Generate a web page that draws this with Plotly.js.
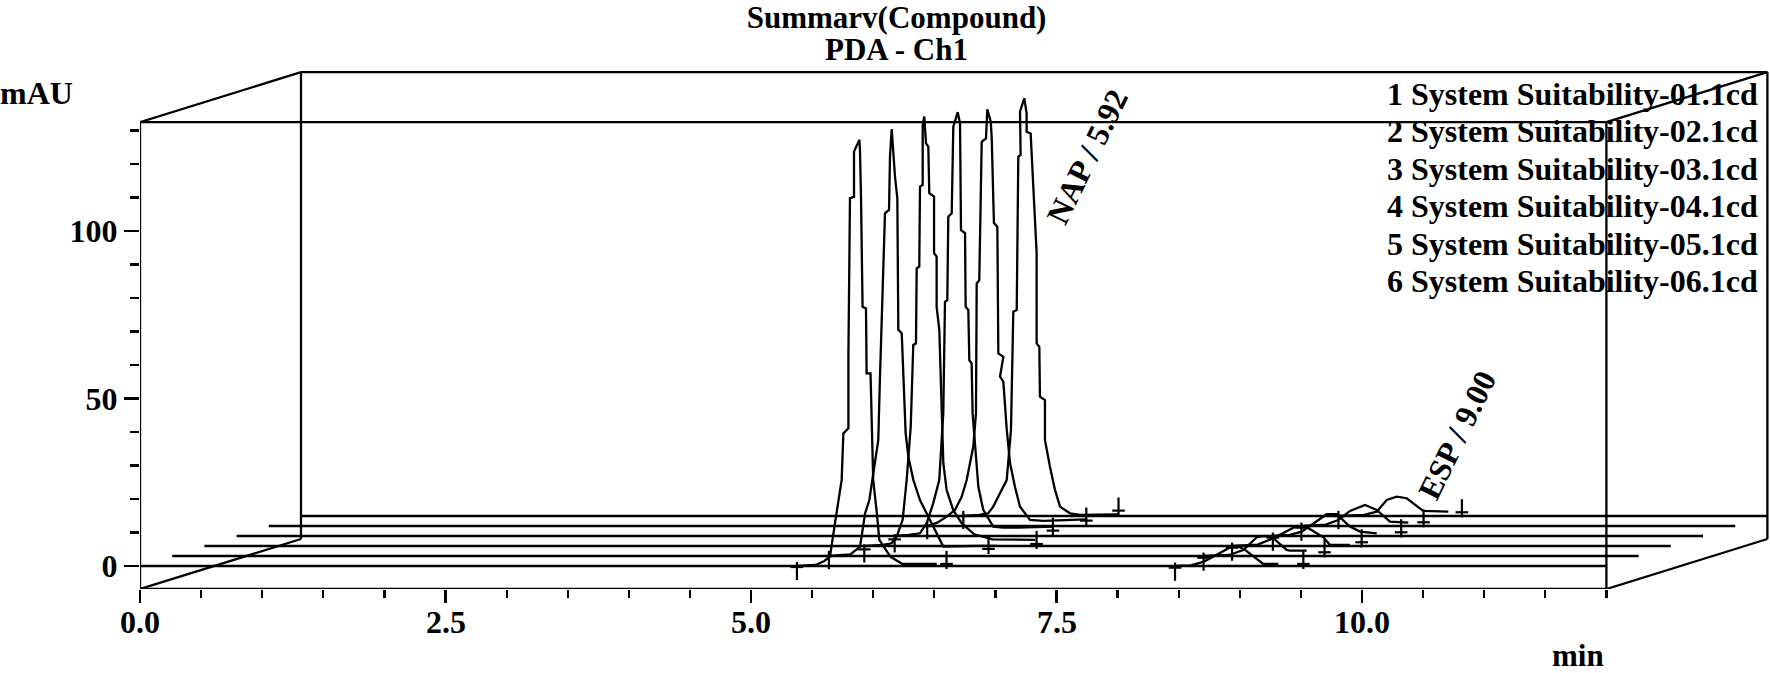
<!DOCTYPE html>
<html><head><meta charset="utf-8">
<script src="https://cdn.plot.ly/plotly-3.0.1.min.js"></script>
<style>html,body{margin:0;padding:0;background:#fff;}#chart{width:1770px;height:673px;}</style>
</head><body><div id="chart"></div>
<script>
// ---- data (time in min, signal in mAU) ----
const seriesNames = [
  "1 System Suitability-01.1cd","2 System Suitability-02.1cd","3 System Suitability-03.1cd",
  "4 System Suitability-04.1cd","5 System Suitability-05.1cd","6 System Suitability-06.1cd"];
const peakLabels = ["NAP / 5.92", "ESP / 9.00"];
const xTickVals = [0, 2.5, 5, 7.5, 10];
const xTickText = ["0.0", "2.5", "5.0", "7.5", "10.0"];
const yTickVals = [0, 50, 100];
const yTickText = ["0", "50", "100"];
const timeRange = [0, 12];

const napTime = [
  [5.38,5.53,5.60,5.646,5.687,5.742,5.756,5.797,5.797,5.81,5.843,5.843,5.887,5.892,5.90,5.913,5.941,5.946,5.978,5.987,6.00,6.03,6.05,6.14,6.24,6.52],
  [5.38,5.55,5.629,5.670,5.705,5.737,5.778,5.792,5.833,5.866,5.874,5.888,5.915,5.934,5.942,5.970,5.989,6.002,6.024,6.065,6.119,6.201,6.31,6.57,6.75],
  [5.40,5.55,5.624,5.665,5.714,5.747,5.780,5.801,5.823,5.829,5.850,5.856,5.878,5.878,5.891,5.905,5.924,5.932,5.971,5.971,5.992,5.992,6.014,6.020,6.033,6.047,6.074,6.128,6.197,6.30,6.45,6.80],
  [5.385,5.50,5.592,5.647,5.701,5.750,5.783,5.797,5.816,5.824,5.852,5.860,5.865,5.901,5.920,5.928,5.961,5.966,5.988,5.996,6.015,6.023,6.043,6.070,6.110,6.192,6.274,6.40,6.68],
  [5.388,5.47,5.548,5.615,5.670,5.711,5.765,5.787,5.793,5.814,5.834,5.869,5.880,5.908,5.916,5.934,5.962,5.970,6.011,5.984,6.011,6.039,6.066,6.106,6.147,6.229,6.338,6.69],
  [5.42,5.55,5.624,5.665,5.720,5.775,5.810,5.829,5.857,5.870,5.889,5.884,5.919,5.938,5.938,5.971,6.020,6.020,6.042,6.047,6.088,6.088,6.129,6.170,6.211,6.293,6.375,6.69]
];
const napSignal = [
  [0,0.3,1.5,2.8,12.7,25.7,39.6,41.1,62.5,109.8,110.2,123.7,127.2,123.7,110.7,77.4,76.9,57.5,57.5,44.6,25.7,15.7,7.8,2.8,0.6,0.6],
  [0,0.5,2.8,12.7,16.7,24.7,34.6,53.5,102.3,103.3,119.2,127.4,113.2,106.8,67.5,66.5,48.6,36.7,29.7,22.7,16.7,10.7,2.8,3.0,3.0],
  [0,0.3,0.8,2.8,7.8,19.7,35.6,60.0,60.5,82.9,83.4,107.3,107.8,125.7,128.2,120.2,119.2,105.3,104.3,87.4,86.4,71.4,64.5,57.5,36.6,24.7,16.7,10.7,6.8,3.5,2.0,1.8],
  [0,0.3,0.8,3.8,9.8,16.7,36.6,69.9,70.4,95.3,96.3,115.7,122.2,126.5,123.2,91.3,90.4,68.4,67.5,52.5,51.5,36.6,26.7,14.7,7.8,2.8,2.5,2.5,2.8],
  [0,1.0,2.8,4.8,8.7,13.7,23.7,33.6,72.4,73.4,114.7,115.7,124.4,120.7,115.7,90.4,89.3,51.5,50.5,44.6,43.1,28.7,18.7,11.7,5.8,1.8,1.5,2.0],
  [0,0.3,0.8,2.8,6.8,10.7,25.7,61.0,61.5,107.3,107.8,120.7,124.7,120.2,114.7,114.2,78.4,51.5,50.5,35.6,34.6,22.7,14.7,7.8,2.8,0.8,0.3,0.5]
];
const espTime = [
  [8.47,8.60,8.707,8.934,8.99,9.043,9.193,9.315],
  [8.44,8.65,8.765,8.875,8.943,9.011,9.12,9.147,9.284],
  [8.41,8.62,8.747,8.939,9.021,9.157,9.211,9.375],
  [8.48,8.62,8.716,8.921,9.002,9.111,9.193,9.33],
  [8.45,8.65,8.752,8.848,8.971,9.066,9.175,9.325],
  [8.49,8.70,8.803,8.885,8.966,9.048,9.184,9.389]
];
const espSignal = [
  [0,0.2,1.3,5.8,5.8,4.8,0.6,0.6],
  [0,0.3,1.8,5.6,6.0,5.3,1.8,1.6,1.6],
  [0,0.4,2.3,6.0,5.6,2.6,0.3,0.3],
  [0,0.3,1.3,6.5,6.5,2.8,1.3,0.8],
  [0,0.4,1.8,4.5,6.3,4.8,1.3,1.0],
  [0,0.3,1.3,4.8,5.8,5.3,1.5,1.3]
];
// peak start / end marks: [NAP start, NAP end, ESP start, ESP end]
const markTime = [
  [5.376,6.60,8.47,9.52],
  [5.374,6.68,8.44,9.43],
  [5.40,6.81,8.41,9.47],
  [5.385,6.68,8.48,9.53],
  [5.388,6.69,8.45,9.45],
  [5.42,6.69,8.49,9.50]
];
const markSignal = [
  [-1.5,1.8,-1.7,1.8],
  [-1.2,3.3,-1.7,2.3],
  [-2.2,1.8,-1.7,2.3],
  [-2.2,2.8,-1.7,2.3],
  [-1.2,2.8,-1.7,2.3],
  [-1.2,2.8,-1.2,2.3]
];
const markIsStart = [true, false, true, false];

// ---- pseudo-3D projection settings ----
const DX = 0.2635;   // depth shift per run, in min
const DY = 2.985;    // depth shift per run, in mAU
const yFloor = -6.87;
const yFrontTop = 132.5;
const FONT = "Liberation Serif, Times New Roman, serif";
const LW = 2.3;
const pxPerMin = 122.2, pxPerMAU = 3.35;
const BAR_OFF = 4 / pxPerMAU;  // crossbar offset of the peak marks

const traces = [];
seriesNames.forEach((name, k) => {
  const sx = t => t + k * DX, sy = v => v + k * DY;
  traces.push({type:"scatter", mode:"lines", name: name + " baseline", showlegend:false, hoverinfo:"skip",
    x: timeRange.map(sx), y: [0, 0].map(sy), line:{color:"#000", width:LW}});
  traces.push({type:"scatter", mode:"lines", name: name + " NAP", showlegend:false,
    x: napTime[k].map(sx), y: napSignal[k].map(sy), line:{color:"#000", width:LW}});
  traces.push({type:"scatter", mode:"lines", name: name + " ESP", showlegend:false,
    x: espTime[k].map(sx), y: espSignal[k].map(sy), line:{color:"#000", width:LW}});
  traces.push({type:"scatter", mode:"markers", name: name + " marks", showlegend:false,
    x: markTime[k].map(sx), y: markSignal[k].map(sy),
    marker:{symbol:"line-ns", size:13, line:{color:"#000", width:2.2}, color:"#000"}});
  traces.push({type:"scatter", mode:"markers", name: name + " marks bar", showlegend:false, hoverinfo:"skip",
    x: markTime[k].map(sx),
    y: markSignal[k].map((v, j) => sy(v + (markIsStart[j] ? BAR_OFF : -BAR_OFF))),
    marker:{symbol:"line-ew", size:9, line:{color:"#000", width:2.2}, color:"#000"}});
});

const D = 5 * DX, H = 5 * DY, xEnd = timeRange[1];
const seg = (x0,y0,x1,y1) => ({type:"line", xref:"x", yref:"y", x0, y0, x1, y1, line:{color:"#000", width:LW}});
const shapes = [
  seg(0, yFloor, 0, yFrontTop), seg(0, yFrontTop, xEnd, yFrontTop), seg(xEnd, yFloor, xEnd, yFrontTop),
  seg(0, yFloor, xEnd, yFloor),
  seg(D, yFrontTop + H, xEnd + D, yFrontTop + H), seg(D, yFloor + H, D, yFrontTop + H),
  seg(xEnd + D, yFloor + H, xEnd + D, yFrontTop + H),
  seg(0, yFrontTop, D, yFrontTop + H), seg(xEnd, yFrontTop, xEnd + D, yFrontTop + H),
  seg(xEnd, yFloor, xEnd + D, yFloor + H), seg(0, yFloor, D, yFloor + H)
];

const xMinor = [], yMinor = [];
for (let i = 1; i <= 24; i++) { const v = i * 0.5; if (!xTickVals.includes(v)) xMinor.push(v); }
for (let i = 1; i <= 13; i++) { const v = i * 10; if (!yTickVals.includes(v)) yMinor.push(v); }

const f = (s) => ({family: FONT, size: s, color: "#000", weight: "bold"});
const W = 1770, Hh = 673, ml = 140, mr = 0, mt = 68, mb = 84;
const plotW = W - ml - mr, plotH = Hh - mt - mb;
const py = (fy) => 1 - (fy - mt) / plotH;   // figure px -> paper y
const px = (fx) => (fx - ml) / plotW;       // figure px -> paper x

const annotations = [];
seriesNames.forEach((name, i) => {
  annotations.push({xref:"paper", yref:"paper", x: px(1760), y: py(93.5 + 37.5 * i), xanchor:"right", yanchor:"middle",
    text: name, showarrow:false, font: f(32)});
});
xTickVals.forEach((v, i) => {
  annotations.push({xref:"x", yref:"paper", x: v, y: py(622), xanchor:"center", yanchor:"middle",
    text: xTickText[i], showarrow:false, font: f(32)});
});
annotations.push({xref:"paper", yref:"paper", x: px(896.6), y: py(50), xanchor:"center", yanchor:"middle",
  text:"PDA - Ch1", showarrow:false, font:f(31)});
annotations.push({xref:"paper", yref:"paper", x: px(36.5), y: py(93), xanchor:"center", yanchor:"middle",
  text:"mAU", showarrow:false, font:f(32)});
annotations.push({xref:"x", yref:"paper", x: xEnd, y: py(655), xanchor:"right", yanchor:"middle",
  text:"min", showarrow:false, font:f(31)});
annotations.push({xref:"x", yref:"y", x: (1087 - ml) / pxPerMin, y: (566 - 157) / pxPerMAU, xanchor:"center", yanchor:"middle",
  text: peakLabels[0], textangle:-64, showarrow:false, font:f(32)});
annotations.push({xref:"x", yref:"y", x: (1457 - ml) / pxPerMin, y: (566 - 435) / pxPerMAU, xanchor:"center", yanchor:"middle",
  text: peakLabels[1], textangle:-64, showarrow:false, font:f(32)});

const layout = {
  width: W, height: Hh, margin:{l:ml, r:mr, t:mt, b:mb, pad:0},
  paper_bgcolor:"#fff", plot_bgcolor:"#fff", showlegend:false,
  title:{text:"Summarv(Compound)", x: 896.6 / W, xanchor:"center", xref:"container",
         y: 1 - 17.5 / Hh, yanchor:"middle", yref:"container", font:f(31)},
  xaxis:{range:[0, plotW / pxPerMin], showgrid:false, zeroline:false, showline:false,
    tickmode:"array", tickvals:xTickVals, ticktext:xTickText, showticklabels:false,
    ticks:"outside", ticklen:13, tickwidth:2.2, tickcolor:"#000",
    minor:{tickmode:"array", tickvals:xMinor, ticks:"outside", ticklen:8, tickwidth:2.2, tickcolor:"#000", showgrid:false}},
  yaxis:{range:[yFloor, yFloor + plotH / pxPerMAU], showgrid:false, zeroline:false, showline:false,
    tickmode:"array", tickvals:yTickVals, ticktext:yTickText, ticks:"outside", ticklen:15, tickwidth:2.2, tickcolor:"#000",
    tickfont:f(32),
    minor:{tickmode:"array", tickvals:yMinor, ticks:"outside", ticklen:9, tickwidth:2.2, tickcolor:"#000", showgrid:false}},
  shapes, annotations
};
Plotly.newPlot("chart", traces, layout, {displayModeBar:false, staticPlot:true});
</script></body></html>
